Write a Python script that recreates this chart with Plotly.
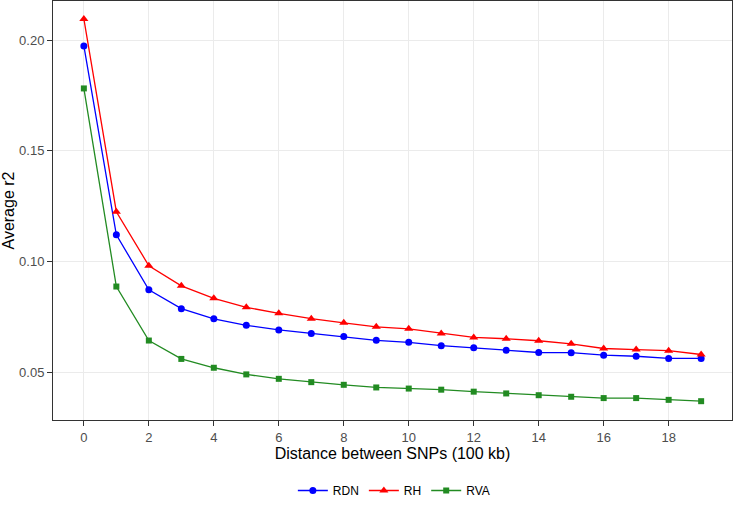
import plotly.graph_objects as go

distance = list(range(20))
rdn = [0.1974, 0.1121, 0.0872, 0.0787, 0.0741, 0.0712, 0.0691, 0.0675, 0.0661, 0.0644,
       0.0635, 0.0620, 0.0610, 0.0599, 0.0589, 0.0588, 0.0577, 0.0572, 0.0562, 0.0562]
rh = [0.2096, 0.1225, 0.0981, 0.0890, 0.0834, 0.0793, 0.0766, 0.0742, 0.0723, 0.0705,
      0.0696, 0.0675, 0.0657, 0.0651, 0.0642, 0.0628, 0.0607, 0.0602, 0.0597, 0.0580]
rva = [0.1782, 0.0887, 0.0643, 0.0560, 0.0520, 0.0490, 0.0470, 0.0455, 0.0443, 0.0431,
       0.0426, 0.0421, 0.0412, 0.0404, 0.0396, 0.0389, 0.0383, 0.0383, 0.0375, 0.0369]

x_ticks = list(range(0, 19, 2))
y_ticks = [0.05, 0.10, 0.15, 0.20]
y_tick_labels = ["0.05", "0.10", "0.15", "0.20"]

series = [
    ("RDN", rdn, "#0000FF", "circle", 7),
    ("RH", rh, "#FF0000", "triangle-up", 8),
    ("RVA", rva, "#228B22", "square", 6),
]

fig = go.Figure()
for name, vals, color, symbol, size in series:
    fig.add_trace(go.Scatter(
        x=distance, y=vals, name=name, mode="lines+markers",
        line=dict(color=color, width=1.3),
        marker=dict(color=color, symbol=symbol, size=size),
    ))

font = "Liberation Sans, Arial, sans-serif"
fig.update_layout(
    width=734, height=505,
    margin=dict(l=53, r=2, t=1, b=85, autoexpand=False),
    paper_bgcolor="white", plot_bgcolor="white",
    font=dict(family=font, size=13, color="#4D4D4D"),
    showlegend=True,
    legend=dict(orientation="h", x=0.502, xanchor="center", y=-0.2029, yanchor="bottom",
                font=dict(size=12, color="black"), itemwidth=30,
                tracegroupgap=0, traceorder="normal"),
)
fig.update_xaxes(
    range=[-0.95, 19.95], tickvals=x_ticks, ticktext=[str(v) for v in x_ticks],
    showgrid=True, gridcolor="#EBEBEB", gridwidth=1, zeroline=False,
    showline=True, linecolor="#333333", linewidth=1, mirror=True,
    ticks="outside", ticklen=5, tickcolor="#333333", automargin=False,
    ticklabelstandoff=0,
    tickfont=dict(size=13, color="#4D4D4D"),
    title=dict(text="Distance between SNPs (100 kb)", font=dict(size=16, color="black"), standoff=2),
)
fig.update_yaxes(
    range=[0.0284, 0.2177], tickvals=y_ticks, ticktext=y_tick_labels,
    showgrid=True, gridcolor="#EBEBEB", gridwidth=1, zeroline=False,
    showline=True, linecolor="#333333", linewidth=1, mirror=True,
    ticks="outside", ticklen=5, tickcolor="#333333", automargin=False,
    tickfont=dict(size=13, color="#4D4D4D"),
    title=dict(text="Average r2", font=dict(size=16, color="black"), standoff=5),
)

fig.write_html("out.html", config={"displayModeBar": False},
               post_script="document.body.style.margin='0';")
